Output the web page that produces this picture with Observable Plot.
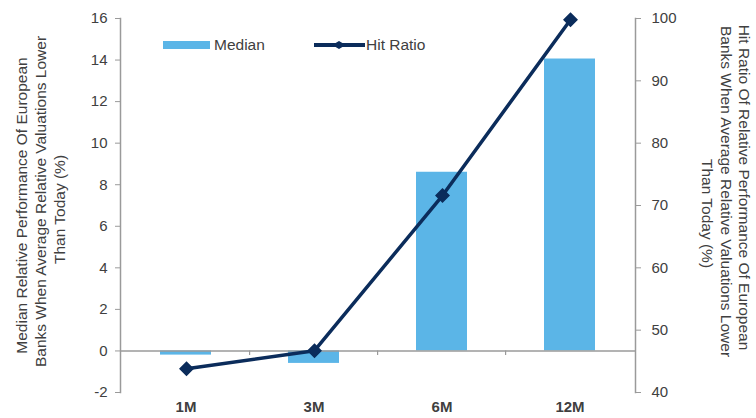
<!DOCTYPE html>
<html>
<head>
<meta charset="utf-8">
<script src="https://cdn.jsdelivr.net/npm/d3@7"></script>
<script src="https://cdn.jsdelivr.net/npm/@observablehq/plot@0.6"></script>
<style>
  body { margin: 0; background: #fff; }
  #wrap { position: relative; width: 756px; height: 418px; font-family: "Liberation Sans", Arial, sans-serif; }
  #wrap svg { position: absolute; left: 0; top: 0; }
  #legend { position: absolute; left: 0; top: 0; width: 756px; height: 90px; pointer-events: none; }
</style>
</head>
<body>
<div id="wrap"></div>
<script>
const categories = ["1M", "3M", "6M", "12M"];
const medianValues = [-0.2, -0.6, 8.6, 14.05];
const hitRatioValues = [43.8, 46.7, 71.6, 99.8];
const leftTicks = [-2, 0, 2, 4, 6, 8, 10, 12, 14, 16];
const rightTicks = [40, 50, 60, 70, 80, 90, 100];
const leftTitle = ["Median Relative Performance Of European", "Banks When Average Relative Valuations Lower", "Than Today (%)"];
const rightTitle = ["Hit Ratio Of Relative Performance Of European", "Banks When Average Relative Valuations Lower", "Than Today (%)"];
const seriesNames = ["Median", "Hit Ratio"];

const barColor = "#5BB5E7";
const lineColor = "#0B2C5B";
const axisColor = "#9a9a9a";
const textColor = "#404040";

const data = categories.map((c, i) => ({cat: c, median: medianValues[i], hit: hitRatioValues[i]}));

const common = {
  width: 756, height: 418,
  marginLeft: 120, marginRight: 121, marginTop: 18, marginBottom: 26,
  style: {fontFamily: "'Liberation Sans', Arial, sans-serif", fontSize: "15px", color: textColor, background: "transparent", overflow: "visible"}
};
const xOpts = {domain: categories, paddingInner: 0.6, paddingOuter: 0.3, label: null};
const fmt = d => String(d);
const titleOpts = {fill: textColor, fontSize: 15.5, textAnchor: "middle", lineAnchor: "middle"};

const plot1 = Plot.plot({
  ...common,
  x: xOpts,
  y: {domain: [-2, 16], label: null},
  marks: [
    Plot.barY(data, {x: "cat", y: "median", fill: barColor}),
    Plot.ruleY([0], {stroke: axisColor, strokeWidth: 1.5}),
    Plot.ruleX(categories.slice(1), {x: d => d, y1: 0, y2: -0.22, dx: -64.4, stroke: axisColor, strokeWidth: 1.2}),
    Plot.axisY(leftTicks, {anchor: "left", tickSize: 5, tickPadding: 8, stroke: axisColor, fill: textColor, label: null, fontSize: 15, tickFormat: fmt}),
    Plot.axisX({anchor: "bottom", tickSize: 0, tickPadding: 9, fill: textColor, fontWeight: "bold", label: null, fontSize: 15}),
    Plot.frame({anchor: "left", stroke: axisColor, strokeWidth: 1.5}),
    Plot.text([leftTitle[0]], {...titleOpts, frameAnchor: "left", rotate: -90, dx: -98, dy: 0}),
    Plot.text([leftTitle[1]], {...titleOpts, frameAnchor: "left", rotate: -90, dx: -79, dy: -4}),
    Plot.text([leftTitle[2]], {...titleOpts, frameAnchor: "left", rotate: -90, dx: -60, dy: 4})
  ]
});

const plot2 = Plot.plot({
  ...common,
  x: {...xOpts, axis: null},
  y: {domain: [40, 100], label: null},
  marks: [
    Plot.line(data, {x: "cat", y: "hit", stroke: lineColor, strokeWidth: 3.5}),
    Plot.dot(data, {x: "cat", y: "hit", symbol: "diamond2", fill: lineColor, stroke: lineColor, r: 5.8}),
    Plot.axisY(rightTicks, {anchor: "right", tickSize: 5, tickPadding: 11, stroke: axisColor, fill: textColor, label: null, fontSize: 15, tickFormat: fmt}),
    Plot.frame({anchor: "right", stroke: axisColor, strokeWidth: 1.5}),
    Plot.text([rightTitle[0]], {...titleOpts, frameAnchor: "right", rotate: 90, dx: 108, dy: -18}),
    Plot.text([rightTitle[1]], {...titleOpts, frameAnchor: "right", rotate: 90, dx: 90, dy: -14}),
    Plot.text([rightTitle[2]], {...titleOpts, frameAnchor: "right", rotate: 90, dx: 71, dy: 8})
  ]
});

const wrap = document.getElementById("wrap");
wrap.appendChild(plot1);
wrap.appendChild(plot2);

// legend
const legend = d3.select(wrap).append("svg").attr("id", "legend").attr("width", 756).attr("height", 90);
const g1 = legend.append("g");
g1.append("rect").attr("x", 163).attr("y", 41).attr("width", 47).attr("height", 8).attr("fill", barColor);
g1.append("text").attr("x", 214).attr("y", 45).attr("dy", "0.35em").attr("fill", textColor)
  .style("font-size", "15.5px").style("font-family", "'Liberation Sans', Arial, sans-serif").text(seriesNames[0]);
const g2 = legend.append("g");
g2.append("line").attr("x1", 314).attr("x2", 365).attr("y1", 45).attr("y2", 45).attr("stroke", lineColor).attr("stroke-width", 4);
g2.append("path").attr("d", d3.symbol(d3.symbolDiamond2, 60)()).attr("transform", "translate(339,45) scale(1.4,0.8)").attr("fill", lineColor);
g2.append("text").attr("x", 366).attr("y", 45).attr("dy", "0.35em").attr("fill", textColor)
  .style("font-size", "15.5px").style("font-family", "'Liberation Sans', Arial, sans-serif").text(seriesNames[1]);
</script>
</body>
</html>
